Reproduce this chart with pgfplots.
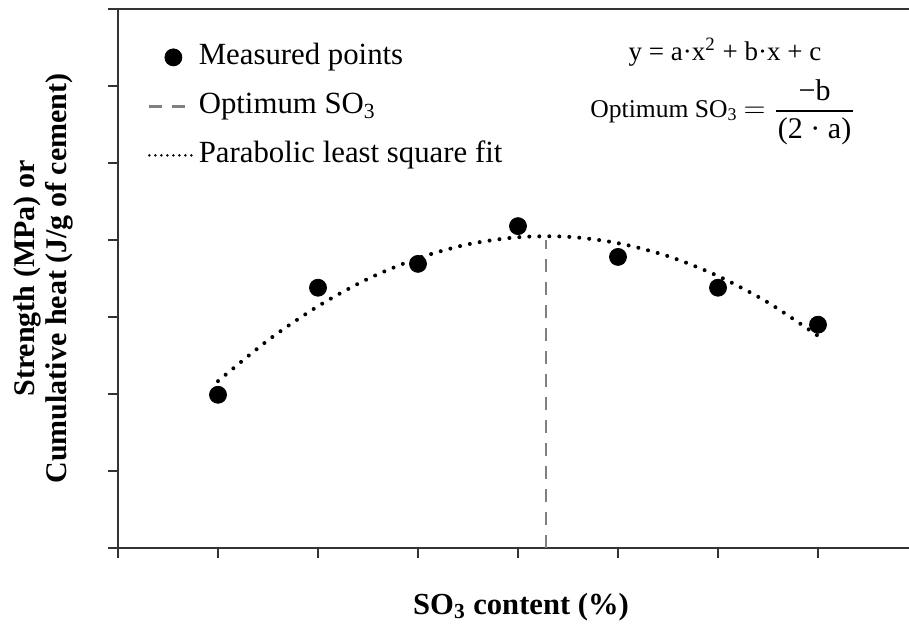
\documentclass[border=0pt]{standalone}
\usepackage{pgfplots}
\pgfplotsset{compat=1.18}
\usepackage{fontspec}
\setmainfont{Liberation Serif}
\begin{document}
\begin{tikzpicture}
\useasboundingbox (-59pt,-38.5pt) rectangle (395.5pt,274pt);
\begin{axis}[
  at={(0pt,0pt)}, anchor=south west,
  scale only axis,
  width=395.5pt, height=269.5pt,
  xmin=0, xmax=7.91, ymin=0, ymax=7,
  axis x line*=box, axis y line*=left,
  xtick={0,...,7}, ytick={0,...,7},
  xticklabels={}, yticklabels={},
  xtick pos=bottom, ytick pos=left,
  tick align=outside,
  major tick length=5pt,
  axis line style={line width=1pt, black!80},
  every tick/.style={line width=1pt, black!80},
  clip=false,
  every axis x label/.style={at={(axis description cs:0.5095,-0.1095)}, anchor=center},
  every axis y label/.style={at={(axis description cs:-0.0945,0.5)}, rotate=90, anchor=center},
  xlabel={SO\textsubscript{3} content (\%)},
  xlabel style={font=\bfseries\fontsize{15.3}{18}\selectfont},
  ylabel={Strength (MPa) or\\Cumulative heat (J/g of cement)},
  ylabel style={font=\bfseries\fontsize{15}{16}\selectfont, align=center},
  legend style={draw=none, fill=none, at={(axis cs:0.30,6.56)}, anchor=north west,
    inner sep=0pt, outer sep=0pt, row sep=10pt,
    font=\fontsize{15.4}{18}\selectfont,
    nodes={text height=11pt, text depth=3.5pt, inner sep=0pt, inner xsep=0.5pt}},
  legend cell align=left,
]
\addplot[only marks, mark=*, mark size=4.25pt, black,
  legend image code/.code={\fill[black] (12pt,0pt) circle (4.25pt);}]
  coordinates {(1,1.99) (2,3.38) (3,3.69) (4,4.18) (5,3.78) (6,3.38) (7,2.90)};
\addlegendentry{Measured points}
\addplot[black!50, line width=1.3pt, dash pattern=on 6.5pt off 5pt,
  legend image code/.code={\draw[black!50, line width=1.3pt, dash pattern=on 6.5pt off 5pt] (0pt,0pt) -- (18pt,0pt);}]
  coordinates {(4.28,0) (4.28,4.0)};
\addlegendentry{Optimum SO\textsubscript{3}}
\addplot[black, line width=2pt, line cap=round, dash pattern=on 0pt off 5pt, smooth,
  legend image code/.code={\draw[black, line width=1.4pt, line cap=round, dash pattern=on 0pt off 3pt] (0pt,0pt) -- (23.5pt,0pt);}]
  coordinates {(1,2.167) (1.5,2.698) (2,3.140) (2.5,3.496) (3,3.763) (3.5,3.944) (4,4.036) (4.5,4.042) (5,3.959) (5.5,3.790) (6,3.532) (6.5,3.188) (7,2.755)};
\addlegendentry{Parabolic least square fit}
\node[anchor=base, font=\fontsize{13.5}{16}\selectfont] at (axis cs:6.07,6.325) {y = a·x\textsuperscript{2} + b·x + c};
\node[anchor=base west, inner sep=0pt, font=\fontsize{12.8}{16}\selectfont] at (axis cs:4.72,5.597) {Optimum SO\textsubscript{3}\kern3pt\raisebox{0pt}{\fontsize{15}{18}\selectfont$=$}\kern4pt$\displaystyle{\hbox{\fontsize{15}{18}\selectfont\kern1pt−b\kern1pt}\above 0.9pt\hbox{\fontsize{15}{18}\selectfont\kern1pt(2 · a)\kern1pt}}$};
\end{axis}
\end{tikzpicture}
\end{document}
